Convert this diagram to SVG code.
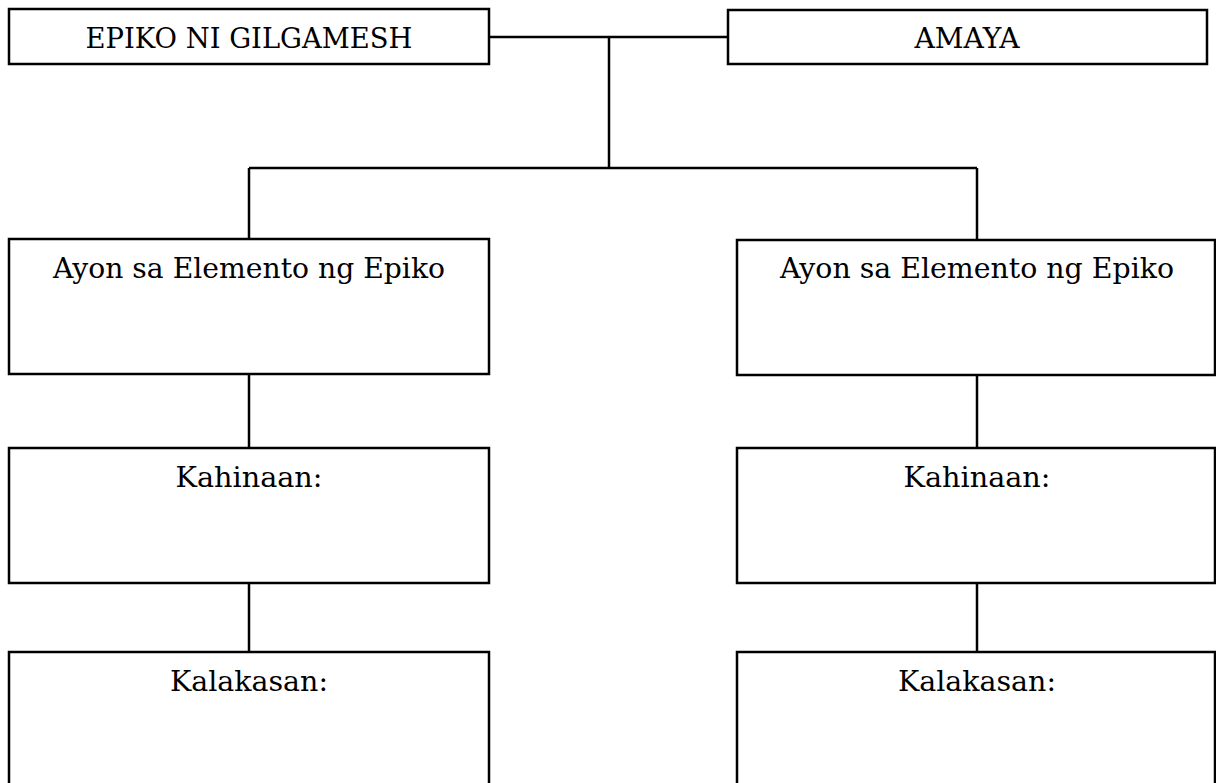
<svg xmlns="http://www.w3.org/2000/svg" width="1216" height="783" viewBox="0 0 1216 783">
<style>
.box{fill:#fff;stroke:#000;stroke-width:2.5}
.conn{fill:none;stroke:#000;stroke-width:2.5}
text{font-family:"DejaVu Serif","Liberation Serif",serif;font-size:28px;fill:#000;text-anchor:middle}
</style>
<rect width="1216" height="783" fill="#fff"/>
<g id="connectors" class="conn">
<path d="M489 37H728"/>
<path d="M609 37V168"/>
<path d="M249 168H977"/>
<path d="M249 168V239"/>
<path d="M977 168V240"/>
<path d="M249 374V448"/>
<path d="M977 375V448"/>
<path d="M249 583V652"/>
<path d="M977 583V652"/>
</g>
<g id="epiko"><rect class="box" x="9" y="9" width="480" height="55"/><text x="249" y="48" textLength="327" lengthAdjust="spacingAndGlyphs">EPIKO NI GILGAMESH</text></g>
<g id="amaya"><rect class="box" x="728" y="10" width="479" height="54"/><text x="967" y="48" textLength="105" lengthAdjust="spacingAndGlyphs">AMAYA</text></g>
<g id="ayon-left"><rect class="box" x="9" y="239" width="480" height="135"/><text x="249" y="278" textLength="392" lengthAdjust="spacingAndGlyphs">Ayon sa Elemento ng Epiko</text></g>
<g id="ayon-right"><rect class="box" x="737" y="240" width="478" height="135"/><text x="977" y="278" textLength="394" lengthAdjust="spacingAndGlyphs">Ayon sa Elemento ng Epiko</text></g>
<g id="kahinaan-left"><rect class="box" x="9" y="448" width="480" height="135"/><text x="249" y="487" textLength="147" lengthAdjust="spacingAndGlyphs">Kahinaan:</text></g>
<g id="kahinaan-right"><rect class="box" x="737" y="448" width="478" height="135"/><text x="977" y="487" textLength="147" lengthAdjust="spacingAndGlyphs">Kahinaan:</text></g>
<g id="kalakasan-left"><rect class="box" x="9" y="652" width="480" height="150"/><text x="249" y="691" textLength="158" lengthAdjust="spacingAndGlyphs">Kalakasan:</text></g>
<g id="kalakasan-right"><rect class="box" x="737" y="652" width="478" height="150"/><text x="977" y="691" textLength="158" lengthAdjust="spacingAndGlyphs">Kalakasan:</text></g>
</svg>
